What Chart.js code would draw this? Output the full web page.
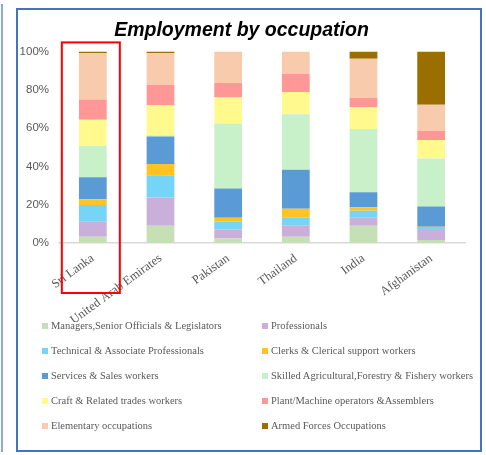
<!DOCTYPE html>
<html>
<head>
<meta charset="utf-8">
<script src="https://cdn.jsdelivr.net/npm/chart.js@4.4.0/dist/chart.umd.min.js"></script>
<style>
  body { margin: 0; background: #fff; width: 486px; height: 455px; position: relative; overflow: hidden; }
  .sideline { position: absolute; left: 1px; top: 4px; width: 2px; height: 448px; background: #8eaadc; }
  .frame { position: absolute; left: 16px; top: 8px; width: 462px; height: 440px; border: 2px solid #4472c4; }
  #wrap { position: absolute; left: 18px; top: 10px; width: 462px; height: 312px; }
  #legend { position: absolute; left: 42px; top: 313px; width: 440px; display: grid; grid-template-columns: 220px 220px; row-gap: 0; }
  .item { height: 25px; display: flex; align-items: center; font-family: "Liberation Serif", serif; font-size: 10.5px; color: #595959; white-space: nowrap; }
  .box { width: 6px; height: 6px; margin-right: 3px; flex: none; }
</style>
</head>
<body>
<div class="sideline"></div>
<div class="frame"></div>
<div id="wrap"><canvas id="chart"></canvas></div>
<div id="legend"></div>
<script>
// countries on the x axis
const countries = ['Sri Lanka', 'United Arab Emirates', 'Pakistan', 'Thailand', 'India', 'Afghanistan'];
const yTicks = [0, 20, 40, 60, 80, 100];

// share of employment (%) per occupation, one value per country
const managers     = [3.3, 9, 2.4, 3.3, 9, 1.6];
const professionals = [7.8, 14.8, 4.7, 5.9, 4.2, 5.7];
const technical    = [8.7, 11.5, 4, 4, 3.6, 1];
const clerks       = [3, 5.9, 2.1, 4.7, 1.9, 0.2];
const services     = [11.5, 14.4, 15.3, 20.3, 7.8, 10.6];
const skilledAgri  = [16.5, 0.7, 33.9, 29, 33, 25];
const craft        = [13.5, 15.6, 13.5, 11.6, 11.5, 9.7];
const plant        = [10.6, 10.6, 7.6, 9.6, 4.7, 4.7];
const elementary   = [24.1, 16.5, 16.5, 11.6, 20.5, 13.7];
const armedForces  = [1, 1, 0, 0, 3.8, 27.8];

const seriesNames = [
    'Managers,Senior Officials & Legislators',
    'Professionals',
    'Technical & Associate Professionals',
    'Clerks & Clerical support workers',
    'Services & Sales workers',
    'Skilled Agricultural,Forestry & Fishery workers',
    'Craft & Related trades workers',
    'Plant/Machine operators &Assemblers',
    'Elementary occupations',
    'Armed Forces Occupations'
];
const seriesData = [managers, professionals, technical, clerks, services, skilledAgri, craft, plant, elementary, armedForces];
const seriesColors = ['#c5e0b4', '#c8b0da', '#76d5f6', '#ffc324', '#5b9bd5', '#c8f1c9', '#fff98e', '#ff9797', '#f8cbad', '#9a6f00'];

const datasets = seriesNames.map((name, i) => ({
    label: name,
    data: seriesData[i],
    backgroundColor: seriesColors[i],
    borderWidth: 0,
    barPercentage: 0.41,
    categoryPercentage: 1
}));

// red highlight box around the first bar
const highlight = {
    id: 'highlight',
    afterDraw(chart) {
        const ctx = chart.ctx;
        const x = chart.scales.x.getPixelForValue(0);
        const area = chart.chartArea;
        ctx.save();
        ctx.strokeStyle = '#ff0000';
        ctx.lineWidth = 2;
        ctx.strokeRect(x - 31, area.top - 9, 58, area.bottom - area.top + 59);
        ctx.restore();
    }
};

new Chart(document.getElementById('chart'), {
    type: 'bar',
    data: { labels: countries, datasets: datasets },
    plugins: [highlight],
    options: {
        responsive: true,
        maintainAspectRatio: false,
        animation: false,
        layout: { padding: { left: 0, right: 15, top: 0, bottom: 0 } },
        plugins: {
            legend: { display: false },
            tooltip: { enabled: false },
            title: {
                display: true,
                text: 'Employment by occupation',
                color: '#000',
                font: { family: 'Liberation Sans', size: 19.5, weight: 'bold', style: 'italic' },
                padding: { top: 9, bottom: 9 }
            }
        },
        scales: {
            x: {
                stacked: true,
                grid: { display: false, drawTicks: false },
                border: { color: '#d9d9d9', width: 1.5 },
                ticks: {
                    color: '#595959',
                    font: { family: 'Liberation Serif', size: 12.5 },
                    minRotation: 36,
                    maxRotation: 36,
                    padding: 8
                },
                afterFit: s => { s.height = 79; }
            },
            y: {
                stacked: true,
                min: 0,
                max: 100,
                afterBuildTicks: s => { s.ticks = yTicks.map(v => ({ value: v })); },
                grid: { display: false, drawTicks: false },
                border: { display: false },
                ticks: {
                    color: '#595959',
                    font: { family: 'Liberation Sans', size: 11.5 },
                    padding: 10,
                    callback: v => v + '%'
                },
                afterFit: s => { s.width = 41; }
            }
        }
    }
});

// two-column legend, filled from the same series lists
const legend = document.getElementById('legend');
seriesNames.forEach((name, i) => {
    const item = document.createElement('div');
    item.className = 'item';
    item.innerHTML = '<span class="box" style="background:' + seriesColors[i] + '"></span>' + name;
    legend.appendChild(item);
});
</script>
</body>
</html>
